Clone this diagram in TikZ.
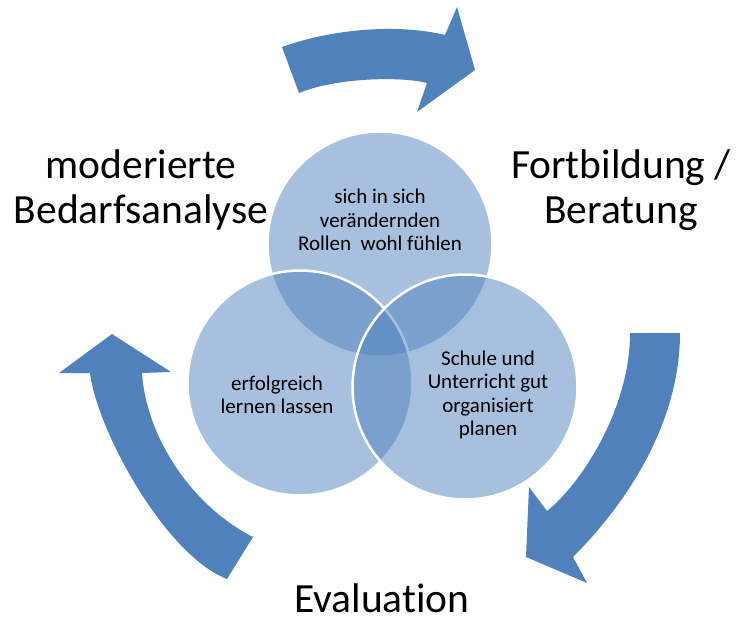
\documentclass[tikz,border=0pt]{standalone}
\usepackage{fontspec}
\setmainfont{Carlito}[Ligatures=NoCommon]
\usepackage{tikz}
\definecolor{cycleblue}{HTML}{4F81BD}
\tikzstyle{bigarrow} = [fill=cycleblue]
\tikzstyle{venn} = [circle, minimum size=225pt, inner sep=0pt, fill=cycleblue, fill opacity=0.5, draw=white, draw opacity=1, line width=2.5pt]
\tikzstyle{venntext} = [align=center, inner sep=0pt, font=\fontsize{21}{23.5}\selectfont]
\tikzstyle{phase} = [align=center, inner sep=0pt, font=\fontsize{41.5}{45}\selectfont]

\begin{document}
\begin{tikzpicture}[x=1pt, y=-1pt]
    \useasboundingbox (0,0) rectangle (737,621);
    % the three curved arrows
    \fill [bigarrow] (282,47) .. controls (335,28) and (400,24) .. (445,35) -- (457,7) -- (475,70) -- (417,112) -- (427,83)
        .. controls (400,76) and (335,78) .. (299,93) -- cycle;
    \fill [bigarrow] (630,333) -- (680,333) .. controls (680,420) and (630,500) .. (573,557)
        -- (587,583) -- (526,557) -- (529,487) -- (547,511)
        .. controls (580,485) and (630,410) .. (630,333) -- cycle;
    \fill [bigarrow] (227,579) .. controls (165,555) and (97,430) .. (90,373)
        -- (59,373) -- (112,334) -- (171,372) -- (142,373)
        .. controls (146,435) and (190,505) .. (253,537) -- cycle;
    \node [phase] (analyse) at (141,190) {moderierte\\Bedarfsanalyse};
    \node [phase] (fortbildung) at (621,190) {Fortbildung /\\Beratung};
    \node [phase, anchor=base] (evaluation) at (382,612) {Evaluation};
    \node [venn] (rollen) at (380,244) {};
    \node [venn] (lernen) at (300,383) {};
    \node [venn] (planen) at (465,387) {};
    \node [venntext] (rollen-txt) at (380,220) {sich in sich\\verändernden\\Rollen\ \ wohl fühlen};
    \node [venntext] (lernen-txt) at (277,395) {erfolgreich\\lernen lassen};
    \node [venntext] (planen-txt) at (488,395) {Schule und\\Unterricht gut\\organisiert\\planen};
\end{tikzpicture}
\end{document}
